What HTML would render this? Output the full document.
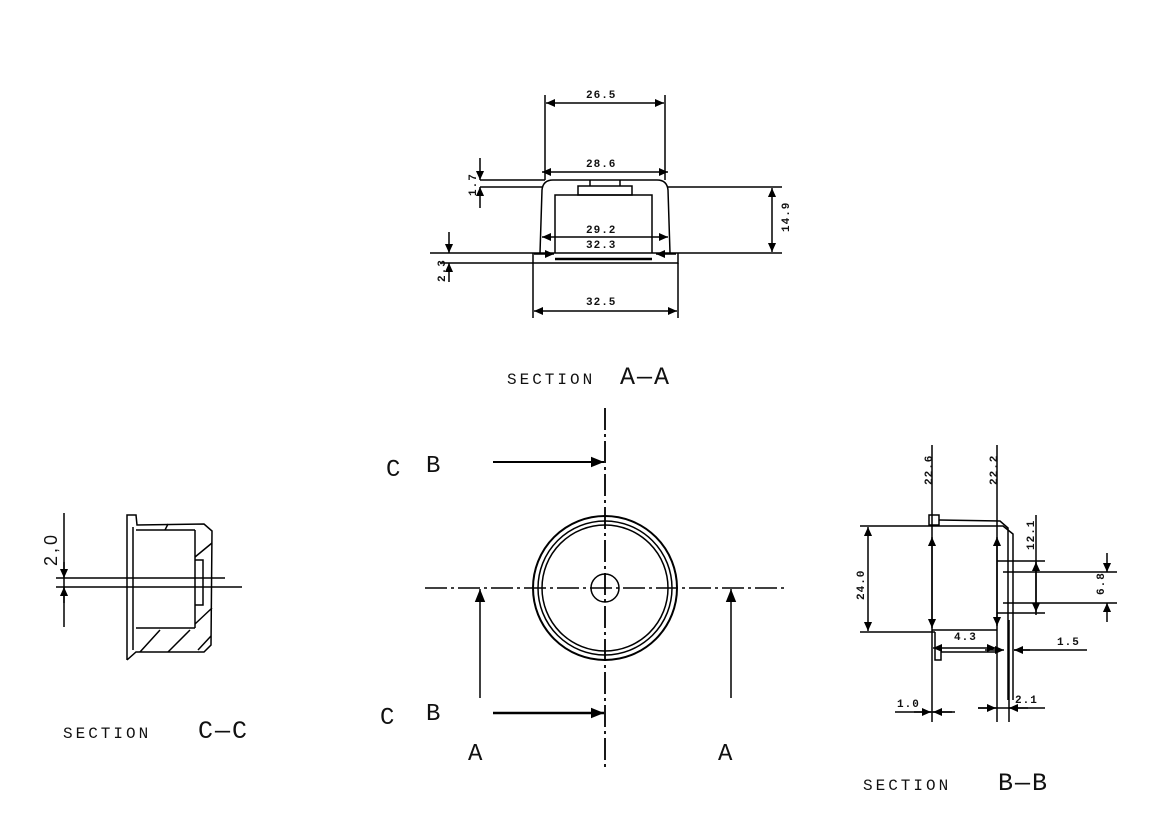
<!DOCTYPE html>
<html><head><meta charset="utf-8"><style>
html,body{margin:0;padding:0;background:#fff;}
svg{display:block}
text{font-family:"Liberation Mono",monospace;fill:#111}
.s{font-family:"Liberation Sans",sans-serif;}
</style></head><body>
<svg width="1155" height="823" viewBox="0 0 1155 823" xmlns="http://www.w3.org/2000/svg">
<defs>
<marker id="a" viewBox="0 0 10 10" refX="10" refY="5" markerWidth="9" markerHeight="9" markerUnits="userSpaceOnUse" orient="auto-start-reverse"><path d="M0,0.5 L10,5 L0,9.5z" fill="#000"/></marker>
<marker id="b" viewBox="0 0 10 10" refX="10" refY="5" markerWidth="24" markerHeight="13" markerUnits="userSpaceOnUse" orient="auto-start-reverse"><path d="M0,1 L10,5 L0,9z" fill="#000"/></marker>
</defs>
<g stroke="#000" stroke-width="1.5" fill="none">
<!-- SECTION A-A -->
<line x1="545" y1="95" x2="545" y2="180"/><line x1="665" y1="95" x2="665" y2="180"/>
<line x1="546" y1="103" x2="664" y2="103" marker-start="url(#a)" marker-end="url(#a)"/>
<line x1="542" y1="172" x2="668" y2="172" marker-start="url(#a)" marker-end="url(#a)"/>
<path d="M540,253 L542,190 Q543,180 553,180 L657,180 Q667,180 668,190 L670,253"/>
<line x1="480" y1="180" x2="545" y2="180"/><line x1="480" y1="187" x2="542" y2="187"/>
<line x1="668" y1="187" x2="782" y2="187"/>
<line x1="480" y1="158" x2="480" y2="180" marker-end="url(#a)"/><line x1="480" y1="208" x2="480" y2="187" marker-end="url(#a)"/>
<line x1="772" y1="188" x2="772" y2="252" marker-start="url(#a)" marker-end="url(#a)"/>
<path d="M555,253 L555,195 L652,195 L652,253"/>
<rect x="578" y="186" width="54" height="9"/>
<line x1="590" y1="180" x2="590" y2="186"/><line x1="620" y1="180" x2="620" y2="186"/>
<line x1="430" y1="253" x2="782" y2="253"/>
<path d="M533,253 L533,263 L678,263 L678,253"/>
<line x1="440" y1="263" x2="533" y2="263"/>
<line x1="555" y1="259" x2="652" y2="259" stroke-width="2.5"/>
<line x1="449" y1="232" x2="449" y2="253" marker-end="url(#a)"/><line x1="449" y1="282" x2="449" y2="263" marker-end="url(#a)"/>
<line x1="542" y1="237" x2="668" y2="237" marker-start="url(#a)" marker-end="url(#a)"/>
<line x1="534" y1="254" x2="554" y2="254" marker-end="url(#a)"/><line x1="676" y1="254" x2="656" y2="254" marker-end="url(#a)"/>
<line x1="533" y1="263" x2="533" y2="318"/><line x1="678" y1="263" x2="678" y2="318"/>
<line x1="534" y1="311" x2="677" y2="311" marker-start="url(#a)" marker-end="url(#a)"/>
<!-- center view -->
<line x1="605" y1="408" x2="605" y2="767" stroke-dasharray="22,4,3,4" stroke-width="1.8"/>
<line x1="425" y1="588" x2="785" y2="588" stroke-dasharray="22,4,3,4"/>
<circle cx="605" cy="588" r="72" stroke-width="2"/>
<circle cx="605" cy="588" r="67"/>
<circle cx="605" cy="588" r="63"/>
<circle cx="605" cy="588" r="14"/>
<line x1="493" y1="462" x2="604" y2="462" marker-end="url(#b)" stroke-width="2"/>
<line x1="493" y1="713" x2="604" y2="713" marker-end="url(#b)" stroke-width="2.5"/>
<line x1="480" y1="698" x2="480" y2="589" marker-end="url(#b)"/>
<line x1="731" y1="698" x2="731" y2="589" marker-end="url(#b)"/>
<!-- SECTION C-C -->
<line x1="64" y1="513" x2="64" y2="627"/>
<line x1="56" y1="578" x2="225" y2="578"/><line x1="56" y1="587" x2="242" y2="587"/>
<line x1="64" y1="562" x2="64" y2="578" marker-end="url(#a)"/><line x1="64" y1="603" x2="64" y2="587" marker-end="url(#a)"/>
<path d="M127,660 L127,515 L136,515 L137,525 L204,524 L212,531 L211,645 L204,652 L136,652 L127,660"/>
<line x1="133" y1="527" x2="133" y2="650"/>
<line x1="136" y1="530" x2="195" y2="530"/>
<line x1="195" y1="530" x2="195" y2="628"/>
<line x1="136" y1="628" x2="195" y2="628"/>
<path d="M195,560 L203,560 L203,605 L195,605"/>
<line x1="195" y1="557" x2="212" y2="543"/><line x1="195" y1="624" x2="212" y2="608"/>
<line x1="140" y1="652" x2="160" y2="630"/><line x1="168" y1="652" x2="190" y2="630"/><line x1="198" y1="650" x2="211" y2="636"/>
<line x1="165" y1="530" x2="168" y2="524"/>
<!-- SECTION B-B -->
<line x1="932" y1="445" x2="932" y2="722"/><line x1="997" y1="445" x2="997" y2="722"/>
<rect x="929" y="515" width="10" height="10"/>
<path d="M860,526 L1003,526 L1013,534 L1013,700"/>
<path d="M939,520 L1000,521 L1008,528 L1008,700"/>
<line x1="860" y1="632" x2="935" y2="632"/>
<path d="M932,630 L997,630"/>
<path d="M935,632 L935,660 L941,660 L941,652 L997,652"/>
<line x1="932" y1="537" x2="932" y2="628" marker-start="url(#a)" marker-end="url(#a)"/>
<line x1="997" y1="537" x2="997" y2="626" marker-start="url(#a)" marker-end="url(#a)"/>
<line x1="868" y1="527" x2="868" y2="631" marker-start="url(#a)" marker-end="url(#a)"/>
<line x1="997" y1="561" x2="1045" y2="561"/><line x1="997" y1="613" x2="1045" y2="613"/>
<line x1="1036" y1="515" x2="1036" y2="615"/>
<line x1="1036" y1="562" x2="1036" y2="612" marker-start="url(#a)" marker-end="url(#a)"/>
<line x1="1003" y1="572" x2="1117" y2="572"/><line x1="1003" y1="603" x2="1117" y2="603"/>
<line x1="1107" y1="553" x2="1107" y2="572" marker-end="url(#a)"/><line x1="1107" y1="622" x2="1107" y2="603" marker-end="url(#a)"/>
<line x1="933" y1="648" x2="996" y2="648" marker-start="url(#a)" marker-end="url(#a)"/>
<line x1="985" y1="650" x2="1004" y2="650" marker-end="url(#a)"/>
<line x1="1087" y1="650" x2="1014" y2="650"/><line x1="1030" y1="650" x2="1014" y2="650" marker-end="url(#a)"/>
<line x1="895" y1="712" x2="955" y2="712"/>
<line x1="914" y1="712" x2="931" y2="712" marker-end="url(#a)"/><line x1="952" y1="712" x2="933" y2="712" marker-end="url(#a)"/>
<line x1="978" y1="708" x2="1045" y2="708"/>
<line x1="978" y1="708" x2="996" y2="708" marker-end="url(#a)"/><line x1="1028" y1="708" x2="1009" y2="708" marker-end="url(#a)"/>
<line x1="1009" y1="620" x2="1009" y2="722"/>
</g>
<g font-size="11" font-weight="bold" letter-spacing="1">
<text x="586" y="98">26.5</text>
<text x="586" y="167">28.6</text>
<text x="586" y="233">29.2</text>
<text x="586" y="248">32.3</text>
<text x="586" y="305">32.5</text>
<text transform="translate(789,232) rotate(-90)">14.9</text>
<text transform="translate(476,196) rotate(-90)">1.7</text>
<text transform="translate(445,282) rotate(-90)">2.3</text>
<text transform="translate(932,485) rotate(-90)">22.6</text>
<text transform="translate(997,485) rotate(-90)">22.2</text>
<text transform="translate(864,600) rotate(-90)">24.0</text>
<text transform="translate(1034,550) rotate(-90)">12.1</text>
<text transform="translate(1104,595) rotate(-90)">6.8</text>
<text x="954" y="640">4.3</text>
<text x="1057" y="645">1.5</text>
<text x="897" y="707">1.0</text>
<text x="1015" y="703">2.1</text>
</g>
<text transform="translate(57,566) rotate(-90)" font-size="18" class="s" letter-spacing="3">2,0</text>
<g class="s" fill="#111">
<text x="507" y="384" font-size="16" letter-spacing="3">SECTION</text><text x="620" y="384" font-size="25" letter-spacing="2">A—A</text>
<text x="63" y="738" font-size="16" letter-spacing="3">SECTION</text><text x="198" y="738" font-size="25" letter-spacing="2">C—C</text>
<text x="863" y="790" font-size="16" letter-spacing="3">SECTION</text><text x="998" y="790" font-size="25" letter-spacing="2">B—B</text>
<text x="386" y="476" font-size="24">C</text><text x="426" y="472" font-size="24">B</text>
<text x="380" y="724" font-size="24">C</text><text x="426" y="720" font-size="24">B</text>
<text x="468" y="760" font-size="24">A</text><text x="718" y="760" font-size="24">A</text>
</g>
</svg>
</body></html>
